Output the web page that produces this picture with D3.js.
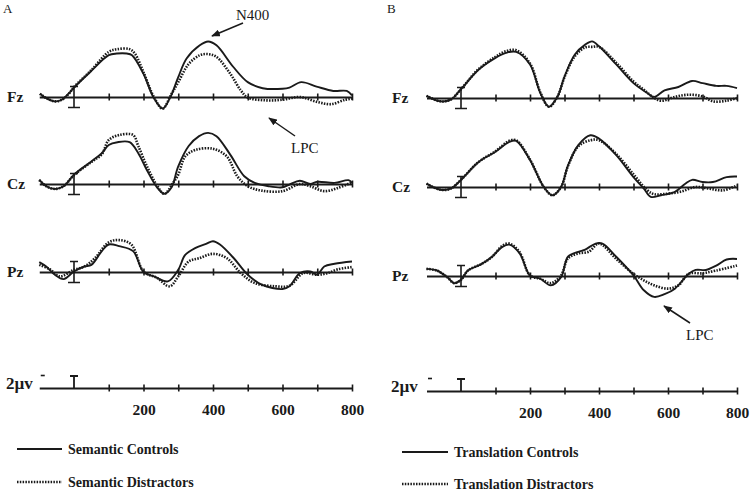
<!DOCTYPE html>
<html>
<head>
<meta charset="utf-8">
<script src="https://cdn.jsdelivr.net/npm/d3@7/dist/d3.min.js"></script>
<style>
  html, body { margin: 0; padding: 0; background: #fff; }
  svg { display: block; font-family: "Liberation Serif", "DejaVu Serif", serif; }
</style>
</head>
<body>
<svg id="chart" width="750" height="492"></svg>
<script>
// ---------- DATA (time in ms, amplitude in µV; negative plotted up) ----------
const panelLabels = ["A", "B"];
const channels = ["Fz", "Cz", "Pz"];
const tickValues = [100, 200, 300, 400, 500, 600, 700, 800];
const tickLabels = ["", "200", "", "400", "", "600", "", "800"];
const scaleLabel = "2µv";
const legendA = ["Semantic Controls", "Semantic Distractors"];
const legendB = ["Translation Controls", "Translation Distractors"];

const semFzCtrl = [[-98,-0.6],[-80,0.2],[-55,0.8],[-35,0.5],[-16,-0.6],[0,-1.7],[46,-4.5],[100,-7.6],[123,-7.9],[152,-7.9],[167,-7.6],[200,-4.2],[229,0.1],[255,2.1],[276,0.2],[300,-3.6],[324,-7.0],[362,-9.4],[386,-10.1],[410,-9.4],[458,-5.5],[500,-2.7],[543,-1.6],[600,-1.5],[620,-1.7],[654,-2.7],[698,-1.9],[746,-1.1],[785,-1.1],[800,-0.3]];
const semFzDist = [[-98,-0.6],[-80,0.2],[-55,0.8],[-35,0.5],[-16,-0.5],[0,-1.8],[50,-4.9],[100,-8.2],[125,-8.7],[160,-8.7],[175,-7.9],[200,-4.5],[230,0.0],[255,2.1],[280,-0.5],[300,-2.7],[330,-6.0],[362,-7.6],[386,-7.8],[410,-7.3],[450,-4.2],[480,-1.2],[500,0.1],[550,0.6],[600,0.5],[650,0.0],[700,0.9],[740,1.3],[780,0.5],[800,0.3]];
const semCzCtrl = [[-100,-0.8],[-80,0.4],[-55,0.9],[-30,0.4],[0,-1.7],[50,-4.1],[80,-5.6],[100,-7.1],[125,-7.6],[160,-7.6],[185,-5.6],[210,-2.5],[240,0.7],[260,1.8],[280,0.7],[300,-3.2],[330,-6.9],[360,-8.7],[386,-9.3],[410,-8.7],[450,-5.3],[490,-1.4],[520,-0.2],[560,0.4],[600,0.6],[620,0.1],[650,-0.6],[680,0.0],[700,-0.4],[750,-0.2],[790,-0.7],[800,-0.2]];
const semCzDist = [[-100,-0.7],[-80,0.4],[-55,0.9],[-30,0.4],[0,-1.6],[50,-4.0],[80,-5.4],[100,-8.0],[130,-8.9],[170,-8.9],[185,-6.9],[210,-3.2],[240,0.4],[260,1.8],[285,-0.2],[300,-1.7],[320,-5.0],[350,-6.2],[400,-6.4],[440,-5.0],[470,-1.4],[500,0.4],[540,1.2],[600,1.3],[650,0.0],[680,0.4],[720,1.3],[760,0.7],[800,-0.3]];
const semPzCtrl = [[-100,-1.8],[-80,-1.0],[-55,0.5],[-30,1.3],[0,-0.1],[30,-1.0],[50,-1.3],[80,-3.8],[100,-5.0],[130,-4.7],[170,-3.8],[200,0.0],[230,0.8],[270,1.7],[300,-0.4],[320,-3.1],[350,-4.4],[380,-5.1],[400,-5.6],[420,-5.0],[460,-2.5],[500,0.5],[540,2.3],[600,3.1],[620,2.6],[650,0.2],[680,-0.1],[700,0.5],[720,-1.0],[750,-1.5],[800,-1.9]];
const semPzDist = [[-100,-1.3],[-70,-0.5],[-40,0.8],[0,-0.4],[30,-1.0],[60,-2.5],[100,-5.4],[130,-5.8],[165,-5.0],[200,-0.1],[240,1.1],[275,2.6],[300,0.8],[330,-1.9],[360,-2.5],[400,-3.3],[440,-2.5],[480,0.2],[520,2.0],[580,2.6],[620,2.5],[660,0.2],[700,0.5],[730,0.2],[760,-0.5],[800,-0.9]];

const traFzCtrl = [[-100,-0.4],[-60,0.6],[-30,0.3],[0,-1.6],[50,-5.1],[100,-7.3],[130,-8.2],[160,-8.4],[200,-6.1],[230,-0.9],[255,1.6],[280,-0.3],[300,-3.9],[330,-7.9],[360,-9.7],[380,-10.3],[400,-9.4],[450,-6.1],[500,-2.7],[540,-0.9],[560,-0.2],[590,-1.4],[630,-2.0],[670,-3.1],[700,-2.7],[740,-2.2],[770,-2.2],[800,-1.8]];
const traFzDist = [[-100,-0.4],[-60,0.6],[-30,0.3],[0,-1.6],[50,-5.2],[100,-7.5],[130,-8.5],[160,-8.7],[200,-6.3],[230,-1.0],[255,1.6],[280,-0.3],[300,-3.8],[330,-7.6],[360,-9.2],[380,-9.3],[400,-9.3],[450,-6.4],[500,-3.0],[530,-1.5],[560,0.0],[580,0.5],[620,-0.2],[660,-0.6],[700,-0.3],[730,0.6],[770,0.5],[800,0.0]];
const traCzCtrl = [[-100,-0.6],[-60,0.5],[-30,0.3],[0,-1.3],[50,-4.5],[100,-6.4],[140,-8.2],[160,-8.4],[200,-4.9],[240,0.0],[265,1.5],[290,0.0],[310,-3.9],[340,-7.6],[375,-9.4],[400,-8.8],[450,-5.8],[500,-1.8],[530,0.3],[550,1.8],[580,1.5],[620,0.9],[650,-0.6],[670,-1.3],[700,-0.9],[730,-0.9],[770,-1.8],[800,-1.9]];
const traCzDist = [[-100,-0.6],[-60,0.5],[-30,0.3],[0,-1.3],[50,-4.5],[100,-6.5],[140,-8.4],[160,-8.5],[200,-5.0],[240,0.0],[265,1.5],[290,0.0],[310,-3.8],[340,-7.4],[375,-8.5],[400,-8.5],[450,-6.0],[500,-2.3],[540,0.6],[560,1.3],[600,1.2],[640,0.8],[680,0.0],[720,0.3],[760,0.6],[800,-0.3]];
const traPzCtrl = [[-100,-1.3],[-70,-1.0],[-40,0.2],[-20,1.3],[0,0.7],[20,-1.0],[60,-2.2],[90,-3.5],[120,-5.3],[140,-5.7],[170,-4.1],[200,-0.1],[230,0.5],[260,1.7],[290,0.2],[310,-3.5],[340,-4.4],[360,-4.8],[390,-5.9],[410,-5.9],[450,-3.5],[500,-0.1],[530,2.6],[560,3.8],[590,3.3],[620,2.3],[660,-0.4],[680,-1.1],[710,-1.1],[740,-1.9],[770,-3.0],[800,-3.1]];
const traPzDist = [[-100,-1.3],[-70,-1.0],[-40,0.2],[-20,1.3],[0,0.7],[20,-1.0],[60,-2.2],[90,-3.5],[120,-5.5],[140,-5.9],[170,-4.3],[200,-0.1],[230,0.5],[260,1.3],[290,-0.1],[310,-3.2],[340,-4.1],[370,-4.4],[400,-5.9],[450,-3.1],[500,-0.4],[530,0.8],[560,1.7],[600,2.3],[630,1.7],[660,-0.4],[700,-0.5],[740,-1.0],[800,-1.9]];

const panelsData = [
  { label: "A", legend: legendA, series: [[semFzCtrl, semFzDist], [semCzCtrl, semCzDist], [semPzCtrl, semPzDist]] },
  { label: "B", legend: legendB, series: [[traFzCtrl, traFzDist], [traCzCtrl, traCzDist], [traPzCtrl, traPzDist]] }
];

// ---------- LAYOUT ----------
const layout = [
  { x0: 39.25, x800: 352, labelX: 3, chX: 7, rows: [97, 184, 272], scaleRow: 388,
    legendLineX: [17, 62], legendTextX: 68, legendY: [449, 482] },
  { x0: 426.5, x800: 737, labelX: 387, chX: 392, rows: [98, 187, 276], scaleRow: 391,
    legendLineX: [402, 448], legendTextX: 454, legendY: [452, 484] }
];
const pxPerUV = 5.5;
const ink = "#1a1a1a";
const dotDash = "1.5,1.3";

const svg = d3.select("#chart");
svg.append("defs").append("marker")
  .attr("id", "arrow").attr("viewBox", "0 0 10 8").attr("refX", 9).attr("refY", 4)
  .attr("markerWidth", 9).attr("markerHeight", 7).attr("markerUnits", "userSpaceOnUse")
  .attr("orient", "auto")
  .append("path").attr("d", "M0,0 L10,4 L0,8 Z").attr("fill", ink);

panelsData.forEach((p, pi) => {
  const L = layout[pi];
  const x = d3.scaleLinear().domain([-100, 800]).range([L.x0, L.x800]);
  const g = svg.append("g");

  g.append("text").attr("x", L.labelX).attr("y", 13).attr("font-size", 13).attr("fill", ink).text(p.label);

  const drawAxis = (base, showLabels) => {
    const axis = d3.axisBottom(x).tickValues(tickValues).tickSizeInner(7).tickSizeOuter(0)
      .tickFormat((d, i) => showLabels ? tickLabels[i] : "");
    const ag = g.append("g").attr("transform", `translate(0,${base})`).call(axis);
    ag.select(".domain").attr("stroke", ink).attr("stroke-width", 2);
    ag.selectAll(".tick line").attr("y1", -3.5).attr("y2", 3.5).attr("stroke", ink).attr("stroke-width", 1.6);
    ag.selectAll(".tick text").attr("y", 16).attr("font-family", "Liberation Serif, serif")
      .attr("font-weight", "bold").attr("font-size", 15.5).attr("fill", ink);
    return ag;
  };

  L.rows.forEach((base, ci) => {
    const y = d3.scaleLinear().domain([0, 1]).range([base, base + pxPerUV]);
    drawAxis(base, false);
    // calibration I-bar at 0 ms
    const cx = x(0);
    g.append("path")
      .attr("d", `M${cx},${base - 10.5}V${base + 10.5}M${cx - 4},${base - 10.5}H${cx + 4}M${cx - 6},${base + 10.5}H${cx + 6}`)
      .attr("stroke", ink).attr("stroke-width", 1.6).attr("fill", "none");
    g.append("text").attr("x", L.chX).attr("y", base).attr("dy", "0.35em")
      .attr("font-size", 15.5).attr("font-weight", "bold").attr("fill", ink).text(channels[ci]);

    const line = d3.line().x(d => x(d[0])).y(d => y(d[1])).curve(d3.curveCatmullRom.alpha(0.5));
    const [ctrl, dist] = p.series[ci];
    g.append("path").datum(dist).attr("d", line).attr("fill", "none")
      .attr("stroke", ink).attr("stroke-width", 2.6).attr("stroke-dasharray", dotDash);
    g.append("path").datum(ctrl).attr("d", line).attr("fill", "none")
      .attr("stroke", ink).attr("stroke-width", 1.9);
  });

  // scale row
  const sb = L.scaleRow;
  drawAxis(sb, true);
  const cx = x(0);
  g.append("path").attr("d", `M${cx},${sb - 12}V${sb}M${cx - 4},${sb - 12}H${cx + 4}`)
    .attr("stroke", ink).attr("stroke-width", 1.8).attr("fill", "none");
  g.append("path").attr("d", `M${L.x0 + 1.5},${sb - 12.5}H${L.x0 + 5.5}`)
    .attr("stroke", ink).attr("stroke-width", 1.6);
  g.append("text").attr("x", L.chX - 1).attr("y", sb - 5).attr("dy", "0.35em")
    .attr("font-size", 17).attr("font-weight", "bold").attr("fill", ink).text(scaleLabel);

  // legend
  [0, 1].forEach(k => {
    const ly = L.legendY[k];
    const ln = g.append("line").attr("x1", L.legendLineX[0]).attr("x2", L.legendLineX[1])
      .attr("y1", ly).attr("y2", ly).attr("stroke", ink);
    if (k === 0) ln.attr("stroke-width", 1.8);
    else ln.attr("stroke-width", 2.6).attr("stroke-dasharray", dotDash);
    g.append("text").attr("x", L.legendTextX).attr("y", ly).attr("dy", "0.35em")
      .attr("font-size", 14).attr("font-weight", "bold").attr("fill", ink).text(p.legend[k]);
  });
});

// annotations
const annotations = [
  { text: "N400", tx: 236, ty: 20, from: [243, 23], to: [212, 36] },
  { text: "LPC", tx: 291, ty: 153, from: [295, 136], to: [269, 118] },
  { text: "LPC", tx: 686, ty: 340, from: [690, 323], to: [664, 306] }
];
annotations.forEach(a => {
  svg.append("line").attr("x1", a.from[0]).attr("y1", a.from[1]).attr("x2", a.to[0]).attr("y2", a.to[1])
    .attr("stroke", ink).attr("stroke-width", 1.5).attr("marker-end", "url(#arrow)");
  svg.append("text").attr("x", a.tx).attr("y", a.ty).attr("font-size", 15).attr("fill", ink).text(a.text);
});
</script>
</body>
</html>
